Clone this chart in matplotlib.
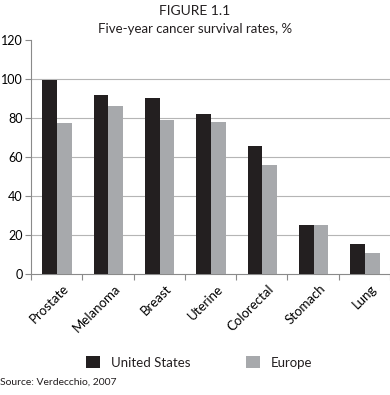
import matplotlib.pyplot as plt
import matplotlib.transforms as mtransforms
import numpy as np

plt.rcParams.update({
    "figure.facecolor": "white",
    "axes.facecolor": "white",
    "text.color": "#231f20",
    "font.family": ["Lato", "DejaVu Sans"],
})

categories = ["Prostate", "Melanoma", "Breast", "Uterine", "Colorectal", "Stomach", "Lung"]
us_rates = [99.3, 92.0, 90.2, 82.1, 65.4, 25.0, 15.6]
europe_rates = [77.3, 86.0, 78.8, 78.0, 56.1, 25.0, 10.8]
yticks = [0, 20, 40, 60, 80, 100, 120]

US_COLOR = "#231f20"
EU_COLOR = "#a7a9ac"
AXIS_COLOR = "#8a8a8a"

fig = plt.figure(figsize=(3.9, 3.95), dpi=100)
ax = fig.add_axes([0.0795, 0.306, 0.9205, 0.593])

x = np.arange(len(categories))
w = 0.286
ax.bar(x - w / 2 + 0.01, us_rates, w, color=US_COLOR, label="United States", zorder=3)
ax.bar(x + w / 2 + 0.01, europe_rates, w, color=EU_COLOR, label="Europe", zorder=3)

ax.set_xlim(-0.5, len(categories) - 0.5)
ax.set_ylim(0, 120)
ax.set_yticks(yticks)
ax.tick_params(axis="y", direction="out", length=4, color=AXIS_COLOR, labelsize=9, pad=2)
for v in yticks[1:-1]:
    ax.axhline(v, color="#b5b5b5", lw=0.8, zorder=1)

# ticks between categories, labels under each group
ax.set_xticks(np.arange(len(categories) + 1) - 0.5)
ax.set_xticklabels([])
ax.tick_params(axis="x", direction="out", length=4, color=AXIS_COLOR)
ax.set_xticks(x, minor=True)
ax.set_xticklabels(categories, minor=True, rotation=45, ha="right",
                   rotation_mode="anchor", fontsize=9.5)
ax.tick_params(axis="x", which="minor", length=0, pad=6)
shift = mtransforms.ScaledTranslation(6 / 100, 0, fig.dpi_scale_trans)
for lab in ax.get_xticklabels(minor=True):
    lab.set_transform(lab.get_transform() + shift)

for side in ["top", "right"]:
    ax.spines[side].set_visible(False)
for side in ["left", "bottom"]:
    ax.spines[side].set_color(AXIS_COLOR)
    ax.spines[side].set_linewidth(0.8)

fig.text(0.5, 0.988, "FIGURE 1.1", ha="center", va="top", fontsize=10)
fig.text(0.5, 0.943, "Five-year cancer survival rates, %", ha="center", va="top", fontsize=9.5)

handles, labels = ax.get_legend_handles_labels()
fig.legend(handles, labels, loc="center", bbox_to_anchor=(0.51, 0.083), ncol=2,
           frameon=False, fontsize=9.5, handlelength=1.1, handleheight=1.1,
           columnspacing=4.2, handletextpad=0.8)

fig.text(0.0, 0.022, "Source: Verdecchio, 2007", ha="left", va="bottom", fontsize=7.5)

fig.savefig("out.png", dpi=100)
